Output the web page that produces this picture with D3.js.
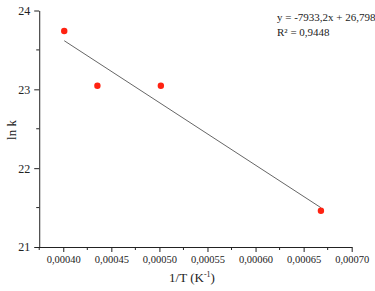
<!DOCTYPE html>
<html lang="en">
<head>
  <meta charset="UTF-8">
  <title>arrhenius</title>
  <script src="https://cdn.jsdelivr.net/npm/d3@7"></script>
  <style>
    body { margin: 0; background: #fff; }
    text { font-family: 'Liberation Serif', 'Times New Roman', serif; fill: #222; }
  </style>
</head>
<body>
<script>
let width = 375;
let height = 291;

// data
let invT = [0.000401, 0.0004355, 0.0005015, 0.000668];
let lnK = [23.74, 23.045, 23.045, 21.46];
let slope = -7933.2;
let intercept = 26.798;
let xTicks = [0.0004, 0.00045, 0.0005, 0.00055, 0.0006, 0.00065, 0.0007];
let yTicks = [21, 22, 23, 24];
let equation = ['y = -7933,2x + 26,798', 'R² = 0,9448'];

let svg = d3.select('body')
  .append('svg')
  .attr('width', width)
  .attr('height', height);

let x = d3.scaleLinear()
  .domain([0.0003706, 0.0007])
  .range([35, 351.7]);

let y = d3.scaleLinear()
  .domain([21, 24])
  .range([247, 10.5]);

let comma = function (d, n) {
  return d.toFixed(n).replace('.', ',');
};

function renderXAxis() {
  let xAxis = d3.axisBottom(x)
    .tickValues(xTicks)
    .tickSize(5)
    .tickSizeOuter(0)
    .tickPadding(4)
    .tickFormat(d => comma(d, 5));

  let g = svg.append('g')
    .attr('class', 'x-axis')
    .attr('transform', 'translate(0,' + y(21) + ')')
    .call(xAxis);
  g.selectAll('text').style('font-size', '10.5px');

  let minor = xTicks.slice(0, -1).map(d => d + 0.000025);
  minor.unshift(0.000375);
  g.selectAll('line.minor')
    .data(minor)
    .enter()
    .append('line')
    .attr('class', 'minor')
    .attr('x1', d => x(d))
    .attr('x2', d => x(d))
    .attr('y1', 0)
    .attr('y2', 3)
    .attr('stroke', '#222');
}

function renderYAxis() {
  let yAxis = d3.axisLeft(y)
    .tickValues(yTicks)
    .tickSize(5)
    .tickSizeOuter(0)
    .tickPadding(4)
    .tickFormat(d3.format('d'));

  let g = svg.append('g')
    .attr('class', 'y-axis')
    .attr('transform', 'translate(' + x(0.000375) + ',0)')
    .call(yAxis);
  g.selectAll('text').style('font-size', '12px');

  g.selectAll('line.minor')
    .data([21.5, 22.5, 23.5])
    .enter()
    .append('line')
    .attr('class', 'minor')
    .attr('x1', 0)
    .attr('x2', -3)
    .attr('y1', d => y(d))
    .attr('y2', d => y(d))
    .attr('stroke', '#222');
}

renderXAxis();
renderYAxis();
svg.selectAll('.domain, .tick line').attr('stroke', '#222');

// trend line
let x0 = d3.min(invT);
let x1 = d3.max(invT);
svg.append('line')
  .attr('x1', x(x0))
  .attr('y1', y(slope * x0 + intercept))
  .attr('x2', x(x1))
  .attr('y2', y(slope * x1 + intercept))
  .attr('stroke', '#666')
  .attr('stroke-width', 1);

svg.selectAll('circle')
  .data(invT)
  .enter()
  .append('circle')
  .attr('cx', d => x(d))
  .attr('cy', (d, i) => y(lnK[i]))
  .attr('r', 3.2)
  .attr('fill', '#f21');

svg.append('text')
  .attr('x', 277)
  .attr('y', 21)
  .style('font-size', '11px')
  .selectAll('tspan')
  .data(equation)
  .enter()
  .append('tspan')
  .attr('x', 277)
  .attr('dy', (d, i) => i === 0 ? 0 : 15)
  .text(d => d);

svg.append('text')
  .attr('x', 192)
  .attr('y', 282)
  .attr('text-anchor', 'middle')
  .style('font-size', '13px')
  .text('1/T (K')
  .append('tspan')
  .attr('dy', -5)
  .style('font-size', '8px')
  .text('-1')
  .select(function () { return this.parentNode; })
  .append('tspan')
  .attr('dy', 5)
  .text(')');

svg.append('text')
  .attr('transform', 'translate(16,130) rotate(-90)')
  .attr('text-anchor', 'middle')
  .style('font-size', '13px')
  .text('ln k');
</script>
</body>
</html>
